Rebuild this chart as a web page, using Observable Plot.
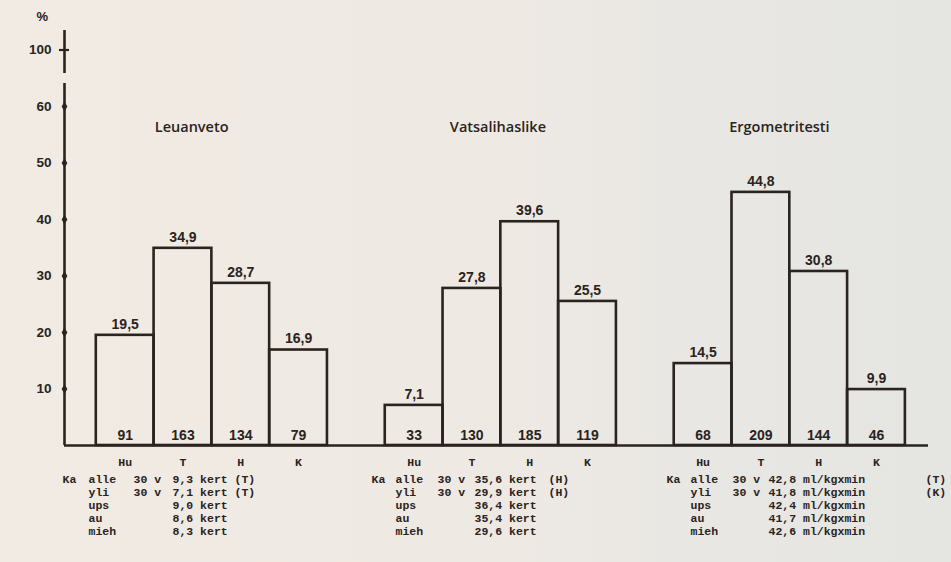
<!DOCTYPE html>
<html>
<head>
<meta charset="utf-8">
<script src="https://cdn.jsdelivr.net/npm/d3@7"></script>
<script src="https://cdn.jsdelivr.net/npm/@observablehq/plot@0.6"></script>
<style>
  html, body { margin: 0; padding: 0; }
  body { width: 951px; height: 562px; overflow: hidden;
         background: linear-gradient(to right, #f1ebe4 0%, #efe9e3 50%, #e8e7e3 75%, #e5e5e2 100%); }
  svg { display: block; }
</style>
</head>
<body>
<div id="chart"></div>
<script>
// ---- data ----
const groups = ["Leuanveto", "Vatsalihaslike", "Ergometritesti"];
const categories = ["Hu", "T", "H", "K"];
const percents = [
  [19.5, 34.9, 28.7, 16.9],
  [7.1, 27.8, 39.6, 25.5],
  [14.5, 44.8, 30.8, 9.9]
];
const counts = [
  [91, 163, 134, 79],
  [33, 130, 185, 119],
  [68, 209, 144, 46]
];
const yTicks = [10, 20, 30, 40, 50, 60];
const yTickLabels = ["10", "20", "30", "40", "50", "60"];
const brokenTickValue = 70;     // axis is broken: this position is labelled 100
const brokenTickLabel = "100";
const unitLabel = "%";
const kaLabel = "Ka";
const rowLabels = ["alle", "yli", "ups", "au", "mieh"];
const ageLabels = ["30 v", "30 v", "", "", ""];
const results = [
  ["9,3 kert", "7,1 kert", "9,0 kert", "8,6 kert", "8,3 kert"],
  ["35,6 kert", "29,9 kert", "36,4 kert", "35,4 kert", "29,6 kert"],
  ["42,8 ml/kgxmin", "41,8 ml/kgxmin", "42,4 ml/kgxmin", "41,7 ml/kgxmin", "42,6 ml/kgxmin"]
];
const significance = [
  ["(T)", "(T)", "", "", ""],
  ["(H)", "(H)", "", "", ""],
  ["(T)", "(K)", "", "", ""]
];

// ---- layout (pixels) ----
const W = 951, H = 562;
const X = {domain: [-0.55, 14.4], range: [64, 928]};
const Y = {domain: [0, 70], range: [445, 49.5]};
const xInv = d3.scaleLinear().domain(X.range).range(X.domain);
const yInv = d3.scaleLinear().domain(Y.range).range(Y.domain);
const groupGap = 5;                     // slots per group (4 bars + 1 gap)
const titleOffset = [1.65, 1.95, 1.82]; // title centre, in bar slots from group start
const tableCols = [                     // Ka, label, age, value, significance
  [62, 88, 133, 172, 234],
  [371, 395, 437, 474, 548],
  [666, 690, 732, 768, 925]
];
const headerY = 462;
const rowY = [479, 492, 505, 518, 531];
const ink = "#2a2320";
const sans = "Liberation Sans, Arial, sans-serif";
const titleFont = "Open Sans, Liberation Sans, sans-serif";
const mono = "Liberation Mono, DejaVu Sans Mono, monospace";

// ---- derived tables ----
const bars = [];
groups.forEach((g, gi) => categories.forEach((c, ci) => {
  bars.push({group: g, cat: c, k: gi * groupGap + ci,
             pct: percents[gi][ci], n: counts[gi][ci]});
}));
const fmt = v => v.toFixed(1).replace(".", ",");

const tableCells = [];
groups.forEach((g, gi) => {
  const cols = tableCols[gi];
  tableCells.push({x: xInv(cols[0]), y: yInv(rowY[0]), t: kaLabel});
  rowLabels.forEach((r, ri) => {
    const y = yInv(rowY[ri]);
    tableCells.push({x: xInv(cols[1]), y, t: r});
    if (ageLabels[ri]) tableCells.push({x: xInv(cols[2]), y, t: ageLabels[ri]});
    tableCells.push({x: xInv(cols[3]), y, t: results[gi][ri]});
    if (significance[gi][ri]) tableCells.push({x: xInv(cols[4]), y, t: significance[gi][ri]});
  });
});

const axisSegments = [
  {y1: 0, y2: yInv(83)},
  {y1: yInv(73), y2: yInv(30)}
];
const tickData = yTicks.map((v, i) => ({v, label: yTickLabels[i]}))
  .concat([{v: brokenTickValue, label: brokenTickLabel}]);

const chart = Plot.plot({
  width: W, height: H,
  marginTop: 0, marginRight: 0, marginBottom: 0, marginLeft: 0,
  x: {type: "linear", ...X, axis: null},
  y: {type: "linear", ...Y, axis: null},
  style: {background: "transparent", color: ink},
  marks: [
    // bars
    Plot.rectY(bars, {x1: "k", x2: d => d.k + 1, y: "pct",
      fill: "none", stroke: ink, strokeWidth: 2.6, strokeLinejoin: "miter"}),
    // x axis line
    Plot.ruleY([0], {x1: X.domain[0], x2: X.domain[1], stroke: ink, strokeWidth: 2.6}),
    // broken y axis line
    Plot.ruleX(axisSegments, {x: X.domain[0], y1: "y1", y2: "y2", stroke: ink, strokeWidth: 2.6}),
    // tick marks
    Plot.dot(tickData.filter(d => d.v !== brokenTickValue), {x: X.domain[0], y: "v",
      symbol: "diamond", r: 3, fill: ink, stroke: "none"}),
    Plot.ruleY(tickData.filter(d => d.v === brokenTickValue), {y: "v",
      x1: xInv(59), x2: xInv(69), stroke: ink, strokeWidth: 2.2}),
    Plot.text(tickData, {x: X.domain[0], y: "v", text: "label", textAnchor: "end", dx: -13,
      fill: ink, fontSize: 13.5, fontWeight: "bold", fontFamily: sans, letterSpacing: "-0.5px"}),
    Plot.text([unitLabel], {frameAnchor: "top-left", dx: 36, dy: 11,
      fill: ink, fontSize: 13, fontWeight: "bold", fontFamily: sans}),
    // group titles
    Plot.text(groups, {x: (d, i) => i * groupGap + titleOffset[i], y: yInv(127), text: d => d,
      fill: ink, fontSize: 14.5, fontWeight: 600, fontFamily: titleFont}),
    // value labels
    Plot.text(bars, {x: d => d.k + 0.5, y: "pct", dy: -11, text: d => fmt(d.pct),
      fill: ink, fontSize: 14, fontWeight: "bold", fontFamily: sans, letterSpacing: "-0.3px"}),
    // counts
    Plot.text(bars, {x: d => d.k + 0.5, y: 0, dy: -10, text: d => String(d.n),
      fill: ink, fontSize: 14, fontWeight: "bold", fontFamily: sans, letterSpacing: "-0.3px"}),
    // category labels under bars
    Plot.text(bars, {x: d => d.k + 0.5, y: yInv(headerY), text: "cat",
      fill: ink, fontSize: 11.5, fontWeight: "bold", fontFamily: mono}),
    // table
    Plot.text(tableCells, {x: "x", y: "y", text: "t", textAnchor: "start",
      fill: ink, fontSize: 11.5, fontWeight: "bold", fontFamily: mono})
  ]
});
document.getElementById("chart").appendChild(chart);
</script>
</body>
</html>
